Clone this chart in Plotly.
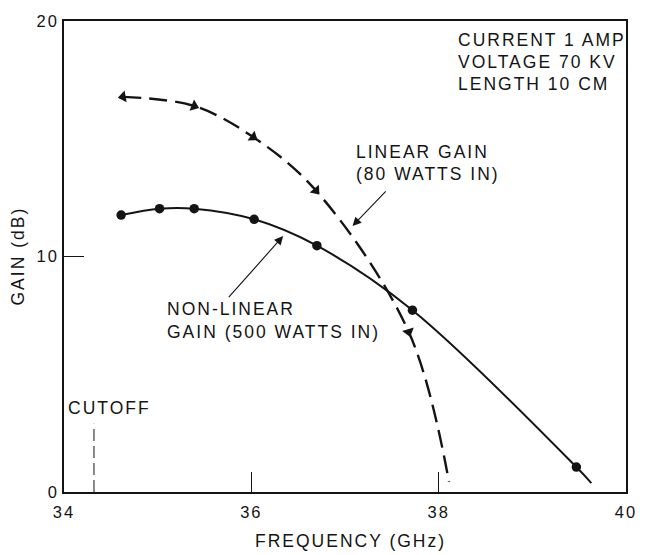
import plotly.graph_objects as go

# Non-linear gain, 500 W drive: measured points (GHz, dB)
nonlinear_freq = [34.61, 35.02, 35.39, 36.03, 36.70, 37.72, 39.47]
nonlinear_gain = [11.76, 12.03, 12.03, 11.58, 10.46, 7.72, 1.06]
# end of the faired curve, just above the frequency axis
nonlinear_end_freq = 39.63
nonlinear_end_gain = 0.38

# Linear gain, 80 W drive: measured points (GHz, dB)
linear_freq = [34.63, 35.39, 36.02, 36.69, 37.68]
linear_gain = [16.78, 16.39, 15.07, 12.80, 6.80]
linear_end_freq = 38.11
linear_end_gain = 0.43

# Cutoff frequency marker
cutoff_freq = 34.32
cutoff_mark_top = 2.9

x_ticks = [34, 36, 38, 40]
y_ticks = [0, 10, 20]

conditions = ["CURRENT 1 AMP", "VOLTAGE 70 KV", "LENGTH 10 CM"]

INK = "#141414"
FONT = "Liberation Sans"

fig = go.Figure()

# faired curves
fig.add_trace(go.Scatter(
    x=nonlinear_freq + [nonlinear_end_freq],
    y=nonlinear_gain + [nonlinear_end_gain],
    mode="lines", line=dict(color=INK, width=2, shape="spline"),
    hoverinfo="skip"))
fig.add_trace(go.Scatter(
    x=linear_freq + [linear_end_freq],
    y=linear_gain + [linear_end_gain],
    mode="lines", line=dict(color=INK, width=2.4, shape="spline", dash="18px,8px"),
    hoverinfo="skip"))

# measured points
fig.add_trace(go.Scatter(
    x=nonlinear_freq, y=nonlinear_gain, mode="markers",
    marker=dict(symbol="circle", size=9.5, color=INK)))
fig.add_trace(go.Scatter(
    x=linear_freq, y=linear_gain, mode="markers",
    marker=dict(symbol="triangle-up", size=10.5, color=INK,
                angle=[-100, 112, 125, 140, 163])))

# cutoff marker
fig.add_shape(type="line", xref="x", yref="y",
              x0=cutoff_freq, x1=cutoff_freq, y0=0, y1=cutoff_mark_top,
              line=dict(color=INK, width=1, dash="12px,5px"))

text_font = dict(family=FONT, size=17.5, color=INK)

annotations = []
for i, line in enumerate(conditions):
    annotations.append(dict(x=38.18, y=19.19 - 0.93 * i, text=line,
                            xanchor="left", yanchor="middle", align="left"))
annotations += [
    dict(x=37.10, y=14.45, text="LINEAR GAIN", xanchor="left", yanchor="middle", align="left"),
    dict(x=37.10, y=13.51, text="(80 WATTS IN)", xanchor="left", yanchor="middle", align="left"),
    dict(x=35.075, y=7.77, text="NON-LINEAR", xanchor="left", yanchor="middle", align="left"),
    dict(x=35.075, y=6.79, text="GAIN (500 WATTS IN)", xanchor="left", yanchor="middle", align="left"),
    dict(x=34.02, y=3.55, text="CUTOFF", xanchor="left", yanchor="middle", align="left"),
]
for a in annotations:
    a.update(xref="x", yref="y", showarrow=False, font=text_font)

# pointer arrows from the labels to their curves
arrow_style = dict(xref="x", yref="y", axref="x", ayref="y", text="",
                   showarrow=True, arrowhead=2, arrowsize=1.6, arrowwidth=1.1,
                   arrowcolor=INK, standoff=0, startstandoff=0)
annotations.append(dict(x=37.08, y=11.29, ax=37.45, ay=12.83, **arrow_style))
annotations.append(dict(x=36.34, y=10.87, ax=35.745, ay=8.21, **arrow_style))

# axis titles
annotations.append(dict(xref="paper", yref="paper", x=0.5, y=0, yshift=-49, xshift=5,
                        text="FREQUENCY (GHz)", showarrow=False,
                        xanchor="center", yanchor="middle", font=text_font))
annotations.append(dict(xref="paper", yref="paper", x=0, y=0.5, xshift=-47,
                        text="GAIN (dB)", textangle=-90, showarrow=False,
                        xanchor="center", yanchor="middle", font=text_font))

axis_common = dict(showline=True, mirror=True, linecolor=INK, linewidth=1.5,
                   ticks="inside", ticklen=20, tickwidth=1, tickcolor=INK,
                   showgrid=False, zeroline=False,
                   tickfont=dict(family=FONT, size=16.5, color=INK))

fig.update_layout(
    width=647, height=555,
    margin=dict(l=64, r=13, t=16, b=63),
    paper_bgcolor="white", plot_bgcolor="white",
    showlegend=False,
    annotations=annotations,
    xaxis=dict(range=[34, 40], tickvals=x_ticks, ticklabelstandoff=4, **axis_common),
    yaxis=dict(range=[0, 20], tickvals=y_ticks, ticklabelstandoff=0, **axis_common),
)

# the lettering on this chart is widely tracked
spacing_js = (
    "var st=document.createElement('style');"
    "st.textContent='svg text{letter-spacing:2px;}';"
    "document.head.appendChild(st);"
)

fig.write_html("out.html", config={"displayModeBar": False}, post_script=spacing_js)
